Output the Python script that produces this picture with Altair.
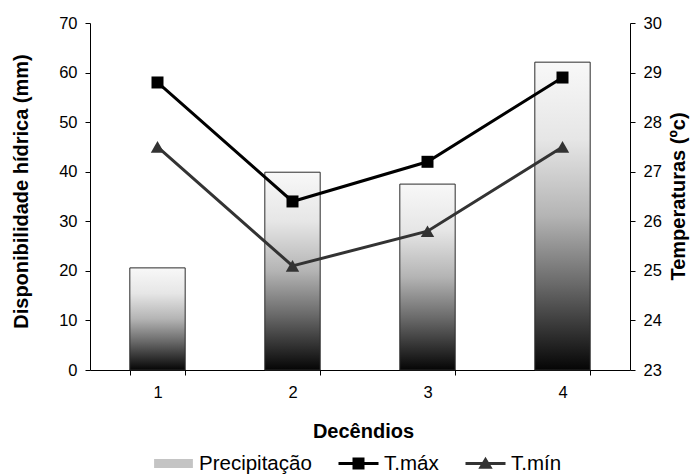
import altair as alt
import pandas as pd

# ---- data ----
decendios = ["1", "2", "3", "4"]
precipitacao = [20.6, 39.9, 37.5, 62.1]
t_max = [28.8, 26.4, 27.2, 28.9]
t_min = [27.5, 25.1, 25.8, 27.5]
series = ["Precipitação", "T.máx", "T.mín"]
y_left_ticks = [0, 10, 20, 30, 40, 50, 60, 70]
y_right_ticks = [23, 24, 25, 26, 27, 28, 29, 30]

df_bar = pd.DataFrame({"dec": decendios, "precip": precipitacao})
df_temp = pd.DataFrame({
    "dec": decendios + decendios,
    "temp": t_max + t_min,
    "serie": [series[1]] * len(t_max) + [series[2]] * len(t_min),
})
df_leg = pd.DataFrame({"serie": series})

FONT = "Liberation Sans"

bar_gradient = alt.Gradient(
    gradient="linear", x1=0, y1=0, x2=0, y2=1,
    stops=[
        alt.GradientStop(offset=0, color="#f8f8f8"),
        alt.GradientStop(offset=0.25, color="#e6e6e6"),
        alt.GradientStop(offset=0.5, color="#b4b4b4"),
        alt.GradientStop(offset=0.72, color="#6a6a6a"),
        alt.GradientStop(offset=1, color="#050505"),
    ],
)

x_enc = alt.X(
    "dec:N", sort=decendios,
    scale=alt.Scale(paddingInner=0.59, paddingOuter=0.295),
    axis=alt.Axis(title="Decêndios", labelAngle=0, tickBand="extent",
                  labelPadding=9, titleX=273, titleY=61,
                  titleBaseline="middle", titleAlign="center"),
)

bars = alt.Chart(df_bar).mark_bar(
    fill=bar_gradient, stroke="#2b2b2b", strokeWidth=1
).encode(
    x=x_enc,
    y=alt.Y("precip:Q", scale=alt.Scale(domain=[0, 70], nice=False),
            axis=alt.Axis(values=y_left_ticks, title="Disponibilidade hídrica (mm)",
                          labelPadding=8, titleAngle=270, titleX=-69, titleY=168,
                          titleBaseline="middle", titleAlign="center")),
)

y_right = alt.Y(
    "temp:Q", scale=alt.Scale(domain=[23, 30], nice=False),
    axis=alt.Axis(orient="right", values=y_right_ticks, title="Temperaturas (ºc)",
                  labelPadding=8, titleAngle=270, titleX=48, titleY=173,
                  titleBaseline="middle", titleAlign="center"),
)

base = alt.Chart(df_temp).encode(x=x_enc, y=y_right)
max_line = base.transform_filter(alt.datum.serie == series[1]).mark_line(color="black", strokeWidth=3)
max_pts = base.transform_filter(alt.datum.serie == series[1]).mark_point(
    shape="square", size=144, filled=True, color="black", opacity=1)
min_line = base.transform_filter(alt.datum.serie == series[2]).mark_line(color="#333333", strokeWidth=3)
min_pts = base.transform_filter(alt.datum.serie == series[2]).mark_point(
    shape="triangle-up", size=180, filled=True, color="#333333", opacity=1)

temps = alt.layer(max_line, max_pts, min_line, min_pts)

path_rect = "M-0.97,-0.22H0.97V0.22H-0.97Z"
path_max = "M-1,-0.075H1V0.075H-1Z M-0.3,-0.3H0.3V0.3H-0.3Z"
path_min = "M-1,-0.075H1V0.075H-1Z M-0.36,0.26L0,-0.34L0.36,0.26Z"

leg_props = dict(
    orient="none", legendX=63, legendY=420, direction="horizontal", title=None,
    symbolSize=1600, labelFontSize=20.5, labelFont=FONT, labelColor="black",
    labelOffset=5, columnPadding=24, padding=0, symbolOpacity=1,
    symbolStrokeColor="#222222", symbolStrokeWidth=0.8,
)

legend_layer = alt.Chart(df_leg).transform_filter("false").mark_point(
    filled=True, opacity=1
).encode(
    shape=alt.Shape("serie:N", scale=alt.Scale(domain=series, range=[path_rect, path_max, path_min]),
                    legend=alt.Legend(**leg_props)),
    color=alt.Color("serie:N", scale=alt.Scale(domain=series, range=["#c4c4c4", "black", "#333333"]),
                    legend=alt.Legend(**leg_props)),
)

chart = alt.layer(bars, temps, legend_layer).resolve_scale(
    y="independent"
).properties(
    width=540, height=347,
    autosize=alt.AutoSizeParams(type="none"),
    padding={"left": 90, "top": 23, "right": 61, "bottom": 104},
    background="white",
).configure_view(stroke=None).configure_axis(
    grid=False, domainColor="black", domainWidth=1, tickColor="black", tickSize=5,
    labelColor="black", labelFont=FONT, labelFontSize=16.5,
    titleColor="black", titleFont=FONT, titleFontSize=20, titleFontWeight="bold",
)

chart.save("out.html", embed_options={"renderer": "svg", "actions": False})
